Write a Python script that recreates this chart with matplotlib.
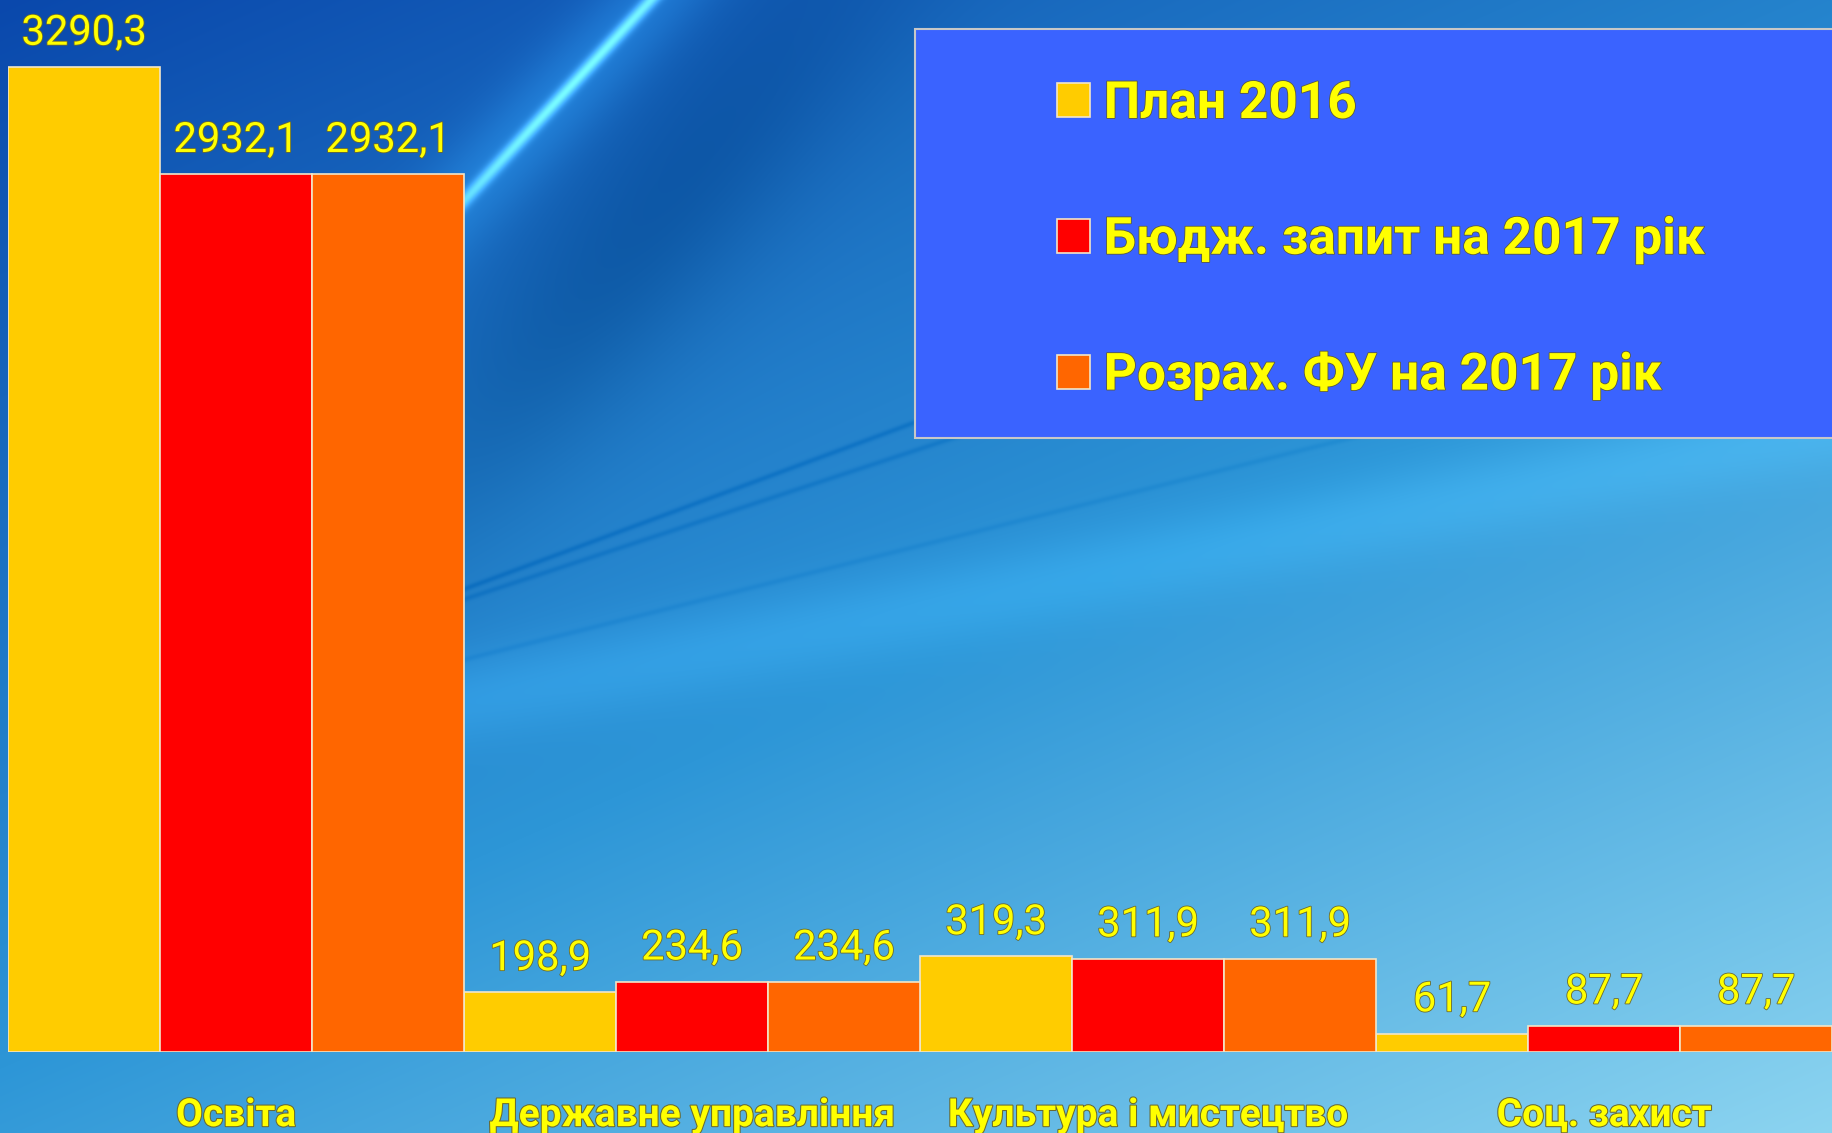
import numpy as np
import matplotlib
matplotlib.use('Agg')
import matplotlib.pyplot as plt
import matplotlib.patheffects as pe
from matplotlib.patches import Rectangle

categories = ['Освіта', 'Державне управління', 'Культура і мистецтво', 'Соц. захист']
series_names = ['План 2016', 'Бюдж. запит на 2017 рік', 'Розрах. ФУ на 2017 рік']
plan_2016 = [3290.3, 198.9, 319.3, 61.7]
request_2017 = [2932.1, 234.6, 311.9, 87.7]
fu_2017 = [2932.1, 234.6, 311.9, 87.7]
series = [plan_2016, request_2017, fu_2017]
colors = ['#FFCC00', '#FF0000', '#FF6600']

W, H = 1832, 1133
text_yellow = '#FFFF00'
outline = [pe.withStroke(linewidth=1.2, foreground='#6a6a30')]

# background: blue gradient with a few streaks
yy, xx = np.mgrid[0:H, 0:W].astype(float)
u = xx / W
v = yy / H
t = np.clip(0.5 * u + 0.7 * v, 0, 1.2) / 1.2
c0 = np.array([10, 72, 172]) / 255
c1 = np.array([45, 150, 215]) / 255
c2 = np.array([140, 212, 240]) / 255
t1 = np.clip(t / 0.55, 0, 1)[..., None]
t2 = np.clip((t - 0.55) / 0.45, 0, 1)[..., None]
bg = c0 * (1 - t1) + c1 * t1
bg = bg * (1 - t2) + c2 * t2
# bright diagonal streak near the top
d1 = (xx - (650 - 0.93 * yy))
streak = np.exp(-(d1 / 9) ** 2) * np.exp(-((yy - 60) / 260) ** 2)
glow = np.exp(-(d1 / 60) ** 2) * np.exp(-((yy - 80) / 320) ** 2)
bg = bg + streak[..., None] * np.array([0.35, 0.5, 0.45]) + glow[..., None] * np.array([0.05, 0.12, 0.12])
# darker diagonal band
d2 = (xx - (820 - 0.75 * yy))
bg = bg - np.exp(-(d2 / 120) ** 2)[..., None] * np.exp(-((yy - 250) / 300) ** 2)[..., None] * np.array([0.05, 0.08, 0.1])
# thin dark lines rising to the right, with a light band under them
for y0, slope, amp in [(590, -0.37, 0.10), (600, -0.33, 0.08), (660, -0.25, 0.05)]:
    line = y0 + slope * (xx - 460)
    band = np.exp(-((yy - line) / 3) ** 2) * (xx > 455)
    bg = bg - band[..., None] * amp * np.array([0.8, 0.6, 0.3])
light_band = np.exp(-((yy - (700 - 0.2 * (xx - 460))) / 45) ** 2) * (xx > 455)
bg = bg + light_band[..., None] * np.array([0.04, 0.07, 0.07])
bg = np.clip(bg, 0, 1)

fig = plt.figure(figsize=(W / 100, H / 100), dpi=100)
bg_ax = fig.add_axes([0, 0, 1, 1])
bg_ax.imshow(bg, aspect='auto', extent=[0, 1, 0, 1])
bg_ax.axis('off')

ax = fig.add_axes([8 / W, 81 / H, 1 - 8 / W, 1052 / H])
ax.patch.set_alpha(0)

n_series = len(series)
for j, (vals, col) in enumerate(zip(series, colors)):
    xs = [i * n_series + j + 0.5 for i in range(len(categories))]
    ax.bar(xs, vals, width=1.0, color=col, edgecolor='#f2e6c8', linewidth=1.2,
           label=series_names[j], zorder=3)
    for x, val in zip(xs, vals):
        t_ = ax.annotate(f'{val:.1f}'.replace('.', ','), (x, val), xytext=(0, 16),
                         textcoords='offset points', ha='center', va='baseline',
                         fontsize=30, color=text_yellow, family='Roboto',
                         annotation_clip=False, zorder=4)
        t_.set_path_effects(outline)

ax.axhline(0, color='#d8e8f0', lw=1.5, zorder=2)
ax.set_xlim(0, len(categories) * n_series)
ax.set_ylim(0, 3514)
ax.set_yticks([])
ax.set_xticks([i * n_series + 1.5 for i in range(len(categories))])
ax.set_xticklabels(categories, fontsize=28, fontweight='bold', color=text_yellow,
                   family='Roboto')
for lab in ax.get_xticklabels():
    lab.set_path_effects([pe.withStroke(linewidth=1.5, foreground='#6a6a30')])
ax.tick_params(axis='x', length=0, pad=32.5)
for s in ax.spines.values():
    s.set_visible(False)

# legend box
fig.patches.append(Rectangle((915 / W, 1 - 438 / H), 1.0, 409 / H, transform=fig.transFigure,
                             facecolor='#3A63FF', edgecolor='#c8c8c8', lw=1.5, zorder=5))
handles, labels = ax.get_legend_handles_labels()
leg = fig.legend(handles, labels, loc='upper left', bbox_to_anchor=(1057 / W, 1 - 79 / H),
                 frameon=False, handlelength=0.64, handleheight=0.64,
                 handletextpad=0.27, labelspacing=1.67, borderpad=0, borderaxespad=0,
                 prop={'family': 'Roboto', 'weight': 'bold', 'size': 37})
leg.set_zorder(6)
for txt in leg.get_texts():
    txt.set_color(text_yellow)
    txt.set_path_effects([pe.withStroke(linewidth=1.2, foreground='#5a5a40')])

fig.savefig('out.png', dpi=100)
